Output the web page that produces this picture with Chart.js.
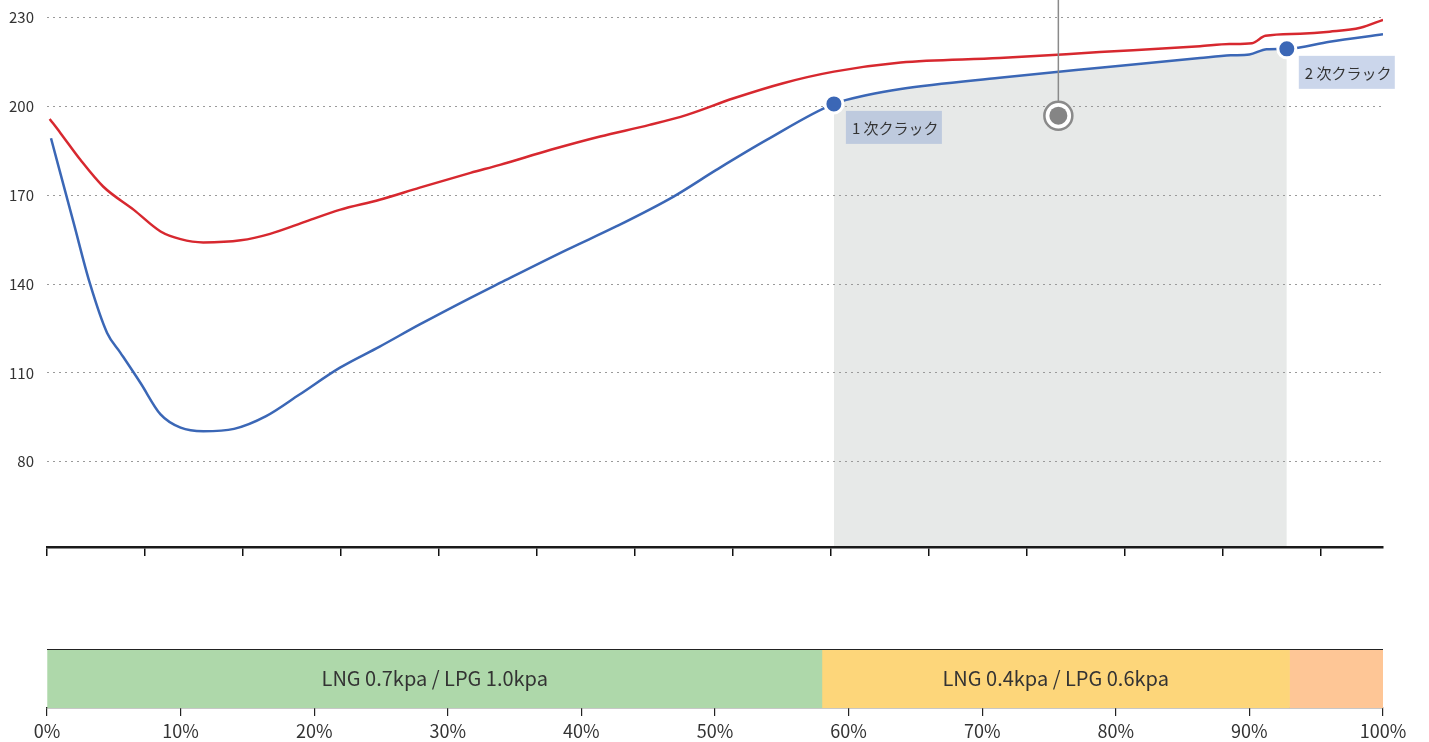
<!DOCTYPE html>
<html lang="ja">
<head>
<meta charset="utf-8">
<title>クラック</title>
<script src="https://cdn.jsdelivr.net/npm/chart.js@4.4.1/dist/chart.umd.min.js"></script>
<style>
  html, body { margin: 0; padding: 0; background: #fff; }
  body { width: 1429px; height: 742px; position: relative; overflow: hidden; }
  #wrapTop  { position: absolute; left: 0; top: -30px; width: 1429px; height: 599px; }
  #wrapBand { position: absolute; left: 0; top: 630px; width: 1429px; height: 112px; }
</style>
</head>
<body>
<div id="wrapTop"><canvas id="chartLines"></canvas></div>
<div id="wrapBand"><canvas id="chartBand"></canvas></div>

<script>
// ── Data ──
const redX  = [0.2, 1.0, 2.5, 4.2, 6.5, 8.5, 10.0, 11.7, 14.5, 16.7, 19.4, 21.9, 24.9, 27.9, 31.7, 33.9, 37.7,
               41.4, 45.1, 47.9, 51.4, 55.1, 58.9, 63.9, 71.3, 78.8, 86.3, 88.5, 90.2, 91.2, 93.8, 96.0, 98.3, 100];
const redY  = [195.8, 191.1, 182.0, 173.0, 165.1, 157.8, 155.2, 154.1, 154.8, 157.0, 161.2, 165.1, 168.5, 172.6, 177.6, 180.3, 185.4,
               189.9, 193.8, 197.2, 202.8, 207.9, 211.8, 214.9, 216.4, 218.4, 220.4, 221.1, 221.4, 223.9, 224.6, 225.3, 226.6, 229.3];

const blueX = [0.3, 2.0, 3.2, 4.5, 5.5, 7.0, 8.5, 10.0, 11.7, 14.0, 16.4, 18.9, 21.9, 24.9, 27.9, 31.7, 33.9,
               38.9, 42.6, 46.9, 50.1, 53.9, 58.9, 61.4, 63.9, 71.3, 78.8, 86.3, 88.6, 90.0, 91.3, 92.8, 96.0, 100];
const blueY = [189.3, 160.6, 140.4, 123.5, 116.8, 106.6, 96.0, 91.5, 90.3, 91.1, 95.4, 102.7, 111.7, 118.9, 126.4, 135.4, 140.4,
               151.6, 159.5, 169.6, 178.6, 188.8, 200.9, 203.9, 205.9, 209.7, 213.1, 216.4, 217.3, 217.6, 219.4, 219.5, 221.9, 224.4];

const crackX      = [58.9, 92.8];
const crackY      = [200.9, 219.5];
const crackLabels = ['1 次クラック', '2 次クラック'];

const markX = 75.7;
const markY = 196.9;

const yTicks   = [80, 110, 140, 170, 200, 230];
const topTicks = [0, 7.34, 14.67, 22.01, 29.34, 36.68, 44.01, 51.35, 58.68, 66.02, 73.35, 80.69, 88.02, 95.36];

const bandSizes  = [58, 35, 7];
const bandLabels = ['LNG 0.7kpa / LPG 1.0kpa', 'LNG 0.4kpa / LPG 0.6kpa', ''];
const pctTicks   = [0, 10, 20, 30, 40, 50, 60, 70, 80, 90, 100];

// ── Styles ──
const FONT       = '"Noto Sans CJK JP", "Noto Sans", sans-serif';
const RED        = '#d7282f';
const BLUE       = '#3b67b6';
const GREY       = '#8a8a8a';
const bandColors = ['#aed8aa', '#fdd67a', '#fec696'];

Chart.defaults.font.family = FONT;
Chart.defaults.color = '#333';

const toPts = (xs, ys) => xs.map((x, i) => ({ x: x, y: ys[i] }));
const redPts   = toPts(redX, redY);
const bluePts  = toPts(blueX, blueY);
const shadePts = bluePts.filter(p => p.x >= crackX[0] && p.x <= crackX[1]);
const crackPts = toPts(crackX, crackY);

// ── Crack label boxes ──
const crackLabelPlugin = {
  id: 'crackLabels',
  afterDatasetsDraw(chart) {
    const meta = chart.getDatasetMeta(6);
    const ctx = chart.ctx;
    ctx.save();
    ctx.font = '15px ' + FONT;
    ctx.textBaseline = 'middle';
    meta.data.forEach((pt, i) => {
      const bx = pt.x + 12, by = pt.y + 7;
      ctx.fillStyle = 'rgba(140,165,210,0.45)';
      ctx.fillRect(bx, by, 96, 33);
      ctx.fillStyle = '#333';
      ctx.fillText(crackLabels[i], bx + 6, by + 17);
    });
    ctx.restore();
  }
};

// ── Line chart ──
new Chart(document.getElementById('chartLines'), {
  type: 'line',
  data: {
    datasets: [
      { label: 'shade', data: shadePts, fill: 'start', backgroundColor: '#e7e9e8',
        borderColor: 'rgba(0,0,0,0)', pointRadius: 0, cubicInterpolationMode: 'monotone', order: 6 },
      { label: 'red', data: redPts, borderColor: RED, borderWidth: 2.5, pointRadius: 0,
        fill: false, cubicInterpolationMode: 'monotone', order: 5 },
      { label: 'blue', data: bluePts, borderColor: BLUE, borderWidth: 2.5, pointRadius: 0,
        fill: false, cubicInterpolationMode: 'monotone', order: 4 },
      { label: 'pin', data: [{ x: markX, y: markY }, { x: markX, y: 260 }], borderColor: GREY,
        borderWidth: 1.5, pointRadius: 0, fill: false, order: 3 },
      { label: 'ring', data: [{ x: markX, y: markY }], showLine: false, pointRadius: 14,
        pointBackgroundColor: '#fff', pointBorderColor: GREY, pointBorderWidth: 2.5, order: 2 },
      { label: 'dot', data: [{ x: markX, y: markY }], showLine: false, pointRadius: 9,
        pointBackgroundColor: '#858585', pointBorderWidth: 0, order: 1 },
      { label: 'crack', data: crackPts, showLine: false, pointRadius: 9,
        pointBackgroundColor: BLUE, pointBorderColor: '#fff', pointBorderWidth: 3, order: 0 }
    ]
  },
  options: {
    responsive: true,
    maintainAspectRatio: false,
    animation: false,
    layout: { padding: { left: 0, right: 46, top: 30, bottom: 0 } },
    plugins: {
      legend: { display: false },
      tooltip: { enabled: false },
      filler: { drawTime: 'beforeDraw' }
    },
    scales: {
      x: {
        type: 'linear', min: 0, max: 100,
        afterBuildTicks: s => { s.ticks = topTicks.map(v => ({ value: v })); },
        afterFit: s => { s.height = 13; },
        ticks: { display: false },
        grid: { drawOnChartArea: false, drawTicks: true, tickLength: 9, color: '#111', lineWidth: 1.5 },
        border: { color: '#1a1a1a', width: 2.5 }
      },
      y: {
        min: 51.2, max: 236.0,
        afterBuildTicks: s => { s.ticks = yTicks.map(v => ({ value: v })); },
        afterFit: s => { s.width = 47; },
        ticks: { padding: 13, font: { size: 15 }, color: '#333' },
        grid: { drawTicks: false, color: '#9a9a9a', lineWidth: 1 },
        border: { display: false, dash: [2, 4] }
      }
    }
  },
  plugins: [crackLabelPlugin]
});

// ── Band text + top line ──
const bandTextPlugin = {
  id: 'bandText',
  afterDatasetsDraw(chart) {
    const ctx = chart.ctx;
    const area = chart.chartArea;
    ctx.save();
    ctx.strokeStyle = '#222';
    ctx.lineWidth = 1.2;
    ctx.beginPath();
    ctx.moveTo(area.left, area.top + 0.5);
    ctx.lineTo(area.right, area.top + 0.5);
    ctx.stroke();
    ctx.font = '20px ' + FONT;
    ctx.fillStyle = '#333';
    ctx.textAlign = 'center';
    ctx.textBaseline = 'middle';
    chart.data.datasets.forEach((ds, i) => {
      const el = chart.getDatasetMeta(i).data[0];
      if (!el || !bandLabels[i]) return;
      ctx.fillText(bandLabels[i], (el.x + el.base) / 2, el.y);
    });
    ctx.restore();
  }
};

// ── Band chart ──
new Chart(document.getElementById('chartBand'), {
  type: 'bar',
  data: {
    labels: [''],
    datasets: bandSizes.map((v, i) => ({
      label: bandLabels[i],
      data: [v],
      backgroundColor: bandColors[i],
      borderWidth: 0,
      barPercentage: 1,
      categoryPercentage: 1
    }))
  },
  options: {
    indexAxis: 'y',
    responsive: true,
    maintainAspectRatio: false,
    animation: false,
    layout: { padding: { left: 47, right: 46, top: 19, bottom: 0 } },
    plugins: { legend: { display: false }, tooltip: { enabled: false } },
    scales: {
      x: {
        stacked: true, min: 0, max: 100,
        afterBuildTicks: s => { s.ticks = pctTicks.map(v => ({ value: v })); },
        afterFit: s => { s.height = 34; },
        ticks: { callback: v => v + '%', padding: 4, font: { size: 18 }, color: '#333',
                 maxRotation: 0, autoSkip: false },
        grid: { drawOnChartArea: false, drawTicks: true, tickLength: 8, color: '#222', lineWidth: 1.2 },
        border: { color: '#222', width: 1.2 }
      },
      y: { stacked: true, display: false }
    }
  },
  plugins: [bandTextPlugin]
});
</script>
</body>
</html>
